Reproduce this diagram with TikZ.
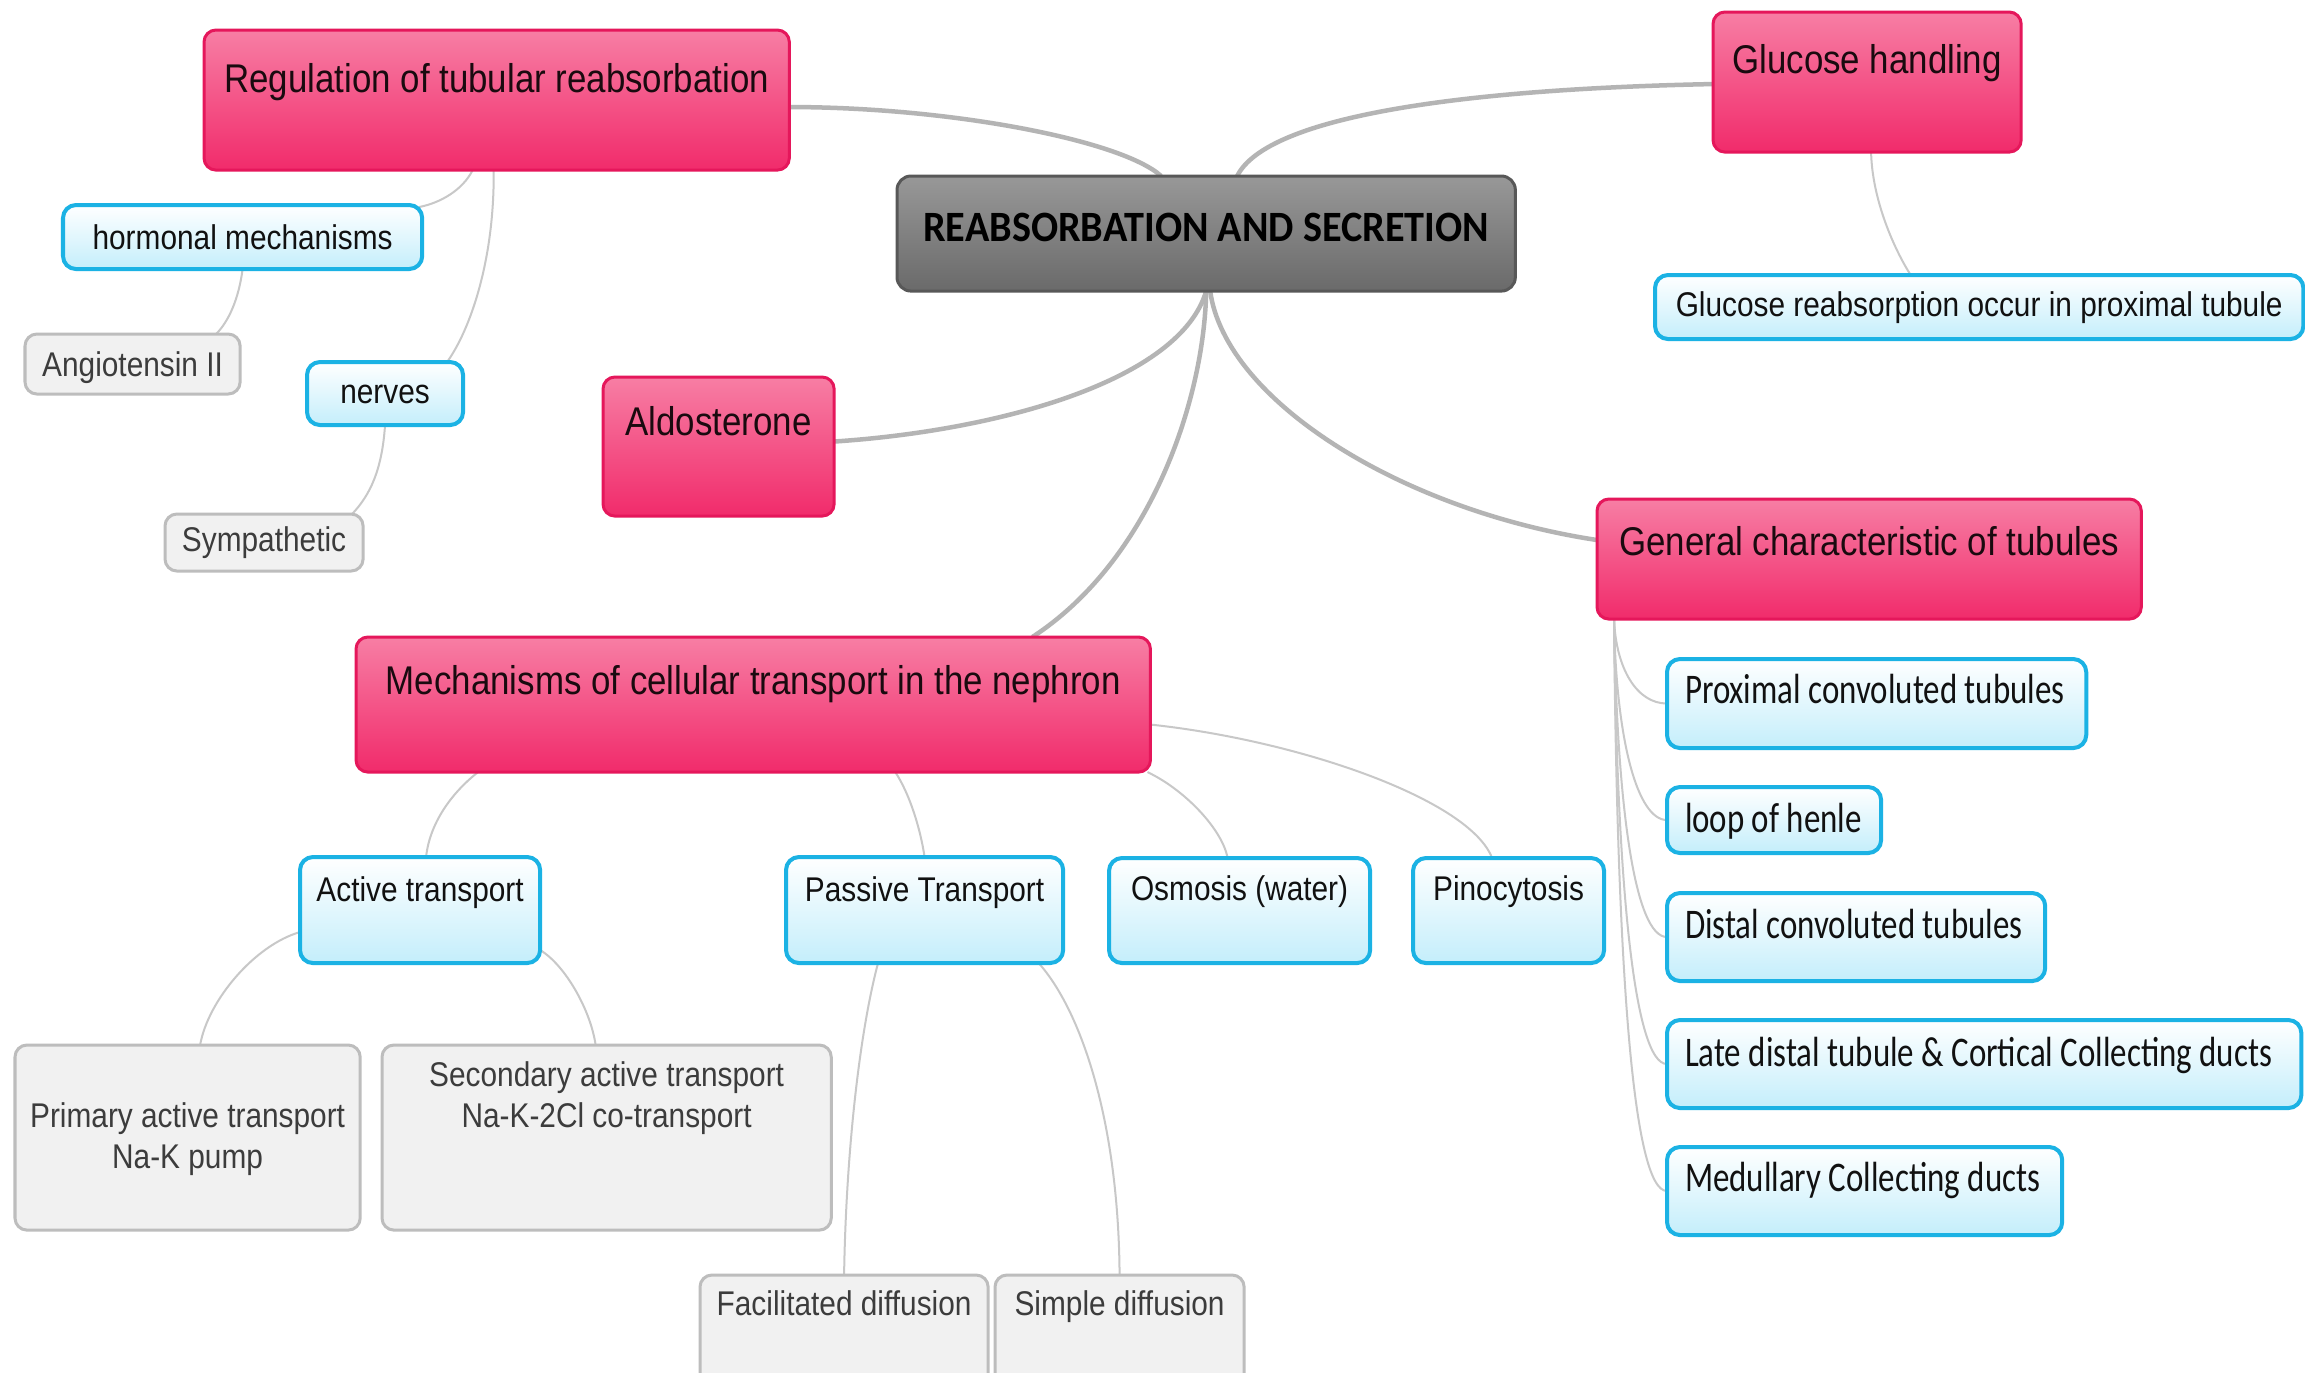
\documentclass[tikz,border=0pt]{standalone}
\usepackage{fontspec}
\newfontfamily\fA[FakeStretch=0.87]{Liberation Sans}
\newfontfamily\fC[FakeStretch=0.78]{Carlito}
\newfontfamily\fCB[FakeStretch=0.93]{Carlito}
\usetikzlibrary{shadings}
\pgfdeclarelayer{background}
\pgfsetlayers{background,main}
\definecolor{pinkT}{HTML}{F77EA4}
\definecolor{pinkB}{HTML}{F12B6B}
\definecolor{pinkD}{HTML}{E5175B}
\definecolor{blueD}{HTML}{1BB2E4}
\definecolor{blueB}{HTML}{C4EEFB}
\definecolor{grayF}{HTML}{F1F1F1}
\definecolor{grayD}{HTML}{BDBDBD}
\definecolor{cenT}{HTML}{989898}
\definecolor{cenB}{HTML}{6A6A6A}
\definecolor{cenD}{HTML}{585858}
\definecolor{lineM}{HTML}{B4B4B4}
\definecolor{lineS}{HTML}{C8C8C8}
\definecolor{txtP}{HTML}{1A0A0F}
\definecolor{txtB}{HTML}{111111}
\definecolor{txtG}{HTML}{3C3C3C}
\tikzset{
  box/.style={anchor=north west, inner xsep=0pt, inner ysep=0pt, outer sep=0pt},
  pinkbox/.style={box, rounded corners=0.12cm, draw=pinkD, line width=0.03cm,
    top color=pinkT, bottom color=pinkB, text=txtP,
    font={\fA\fontsize{11.4pt}{13.7pt}\selectfont}},
  bluebox/.style={box, rounded corners=0.13cm, draw=blueD, line width=0.04cm,
    top color=white, bottom color=blueB, text=txtB,
    font={\fA\fontsize{9.75pt}{11.7pt}\selectfont}},
  tubebox/.style={bluebox, inner xsep=0.18cm,
    font={\fC\fontsize{12pt}{14.4pt}\selectfont}},
  graybox/.style={box, rounded corners=0.12cm, draw=grayD, line width=0.03cm,
    fill=grayF, text=txtG,
    font={\fA\fontsize{9.75pt}{11.7pt}\selectfont}},
  cenbox/.style={box, rounded corners=0.14cm, draw=cenD, line width=0.03cm,
    top color=cenT, bottom color=cenB, text=black,
    font={\fCB\bfseries\fontsize{12.3pt}{14.8pt}\selectfont}},
  mainline/.style={draw=lineM, line width=0.045cm},
  subline/.style={draw=lineS, line width=0.02cm},
}
\begin{document}
\begin{tikzpicture}[x=0.01cm,y=-0.01cm]
\useasboundingbox (0,0) rectangle (2305,1372);
\clip (0,0) rectangle (2305,1372);

% main nodes
\node[cenbox, minimum width=6.18cm, text height=0.65cm, text depth=0.50cm] (cen) at (897,176) {REABSORBATION AND SECRETION};
\node[pinkbox, minimum width=5.85cm, text height=0.62cm, text depth=0.78cm] (reg) at (204,30) {Regulation of tubular reabsorbation};
\node[pinkbox, minimum width=3.08cm, text height=0.61cm, text depth=0.79cm] (glu) at (1713,12) {Glucose handling};
\node[pinkbox, minimum width=2.31cm, text height=0.58cm, text depth=0.81cm] (ald) at (603,377) {Aldosterone};
\node[pinkbox, minimum width=5.44cm, text height=0.56cm, text depth=0.64cm] (gen) at (1597,499) {General characteristic of tubules};
\node[pinkbox, minimum width=7.94cm, text height=0.57cm, text depth=0.78cm] (mech) at (356,637) {Mechanisms of cellular transport in the nephron};

% second level
\node[bluebox, minimum width=6.48cm, text height=0.41cm, text depth=0.23cm] (reabs) at (1655,275) {Glucose reabsorption occur in proximal tubule};
\node[bluebox, minimum width=3.59cm, text height=0.44cm, text depth=0.20cm] (horm) at (63,205) {hormonal mechanisms};
\node[bluebox, minimum width=1.56cm, text height=0.41cm, text depth=0.22cm] (nerves) at (307,362) {nerves};
\node[bluebox, minimum width=2.40cm, text height=0.44cm, text depth=0.62cm] (act) at (300,857) {Active transport};
\node[bluebox, minimum width=2.77cm, text height=0.44cm, text depth=0.62cm] (pas) at (786,857) {Passive Transport};
\node[bluebox, minimum width=2.61cm, text height=0.42cm, text depth=0.63cm] (osm) at (1109,858) {Osmosis (water)};
\node[bluebox, minimum width=1.91cm, text height=0.42cm, text depth=0.63cm] (pino) at (1413,858) {Pinocytosis};

\node[tubebox, text height=0.44cm, text depth=0.45cm] (prox) at (1667,659) {\makebox[3.83cm][l]{Proximal convoluted tubules}};
\node[tubebox, text height=0.45cm, text depth=0.21cm] (loop) at (1667,787) {\makebox[1.78cm][l]{loop of henle}};
\node[tubebox, text height=0.45cm, text depth=0.43cm] (dist) at (1667,893) {\makebox[3.42cm][l]{Distal convoluted tubules}};
\node[tubebox, text height=0.46cm, text depth=0.42cm] (late) at (1667,1020) {\makebox[5.98cm][l]{Late distal tubule \& Cortical Collecting ducts}};
\node[tubebox, text height=0.44cm, text depth=0.44cm] (med) at (1667,1147) {\makebox[3.59cm][l]{Medullary Collecting ducts}};

% leaves
\node[graybox, minimum width=2.15cm, text height=0.42cm, text depth=0.18cm] (ang) at (25,334) {Angiotensin II};
\node[graybox, minimum width=1.98cm, text height=0.37cm, text depth=0.20cm] (symp) at (165,514) {Sympathetic};
\node[graybox, minimum width=3.45cm, text height=0.82cm, text depth=1.03cm] (prim) at (15,1045) {\begin{tabular}[t]{@{}c@{}}Primary active transport\\Na-K pump\end{tabular}};
\node[graybox, minimum width=4.49cm, text height=0.41cm, text depth=1.44cm] (sec) at (382,1045) {\begin{tabular}[t]{@{}c@{}}Secondary active transport\\Na-K-2Cl co-transport\end{tabular}};
\node[graybox, minimum width=2.88cm, text height=0.40cm, text depth=0.85cm] (fac) at (700,1275) {Facilitated diffusion};
\node[graybox, minimum width=2.49cm, text height=0.40cm, text depth=0.85cm] (simp) at (995,1275) {Simple diffusion};

\begin{pgfonlayer}{background}
\fill[white] (0,0) rectangle (2305,1372);
% from the central node
\draw[mainline] ([yshift=-0.07cm]reg.east) .. controls +(160,0) and +(-40,-36) .. ([xshift=-0.45cm]cen.north);
\draw[mainline] ([xshift=0.31cm]cen.north) .. controls +(30,-60) and +(-250,5) .. ([yshift=-0.02cm]glu.west);
\draw[mainline] (cen.south) .. controls +(-26,89) and +(166,-11) .. ([yshift=0.05cm]ald.east);
\draw[mainline] (cen.south) .. controls +(-2,109) and +(118,-77) .. ([xshift=2.79cm]mech.north);
\draw[mainline] ([xshift=0.04cm]cen.south) .. controls +(15,109) and +(-197,-30) .. ([yshift=0.19cm]gen.west);
% regulation
\draw[subline] ([xshift=-0.24cm]reg.south) .. controls +(-10,20) and +(21,-4) .. ([xshift=-0.03cm,yshift=-0.02cm]horm.north east);
\draw[subline] ([xshift=-0.03cm]reg.south) .. controls +(1,90) and +(23,-32) .. ([xshift=-0.16cm]nerves.north east);
\draw[subline] (horm.south) .. controls +(-4,31) and +(12,-12) .. ([xshift=0.835cm]ang.north);
\draw[subline] (nerves.south) .. controls +(-3,45) and +(18,-19) .. ([xshift=0.88cm]symp.north);
% glucose
\draw[subline] ([xshift=0.04cm]glu.south) .. controls +(1,48) and +(-16,-25) .. ([xshift=-0.685cm]reabs.north);
% general characteristic
\draw[subline] ([xshift=0.17cm]gen.south west) .. controls +(2,50) and +(-30,0) .. (prox.west);
\draw[subline] ([xshift=0.17cm]gen.south west) .. controls +(2,120) and +(-30,0) .. (loop.west);
\draw[subline] ([xshift=0.17cm]gen.south west) .. controls +(3,190) and +(-32,0) .. (dist.west);
\draw[subline] ([xshift=0.17cm]gen.south west) .. controls +(3,265) and +(-33,0) .. (late.west);
\draw[subline] ([xshift=0.17cm]gen.south west) .. controls +(3,340) and +(-35,0) .. (med.west);
% mechanisms
\draw[subline] ([xshift=1.22cm]mech.south west) .. controls +(-23,18) and +(4,-37) .. ([xshift=0.06cm]act.north);
\draw[subline] ([xshift=1.42cm]mech.south) .. controls +(15,23) and +(-4,-27) .. (pas.north);
\draw[subline] ([xshift=-0.03cm]mech.south east) .. controls +(38,18) and +(-5,-28) .. ([xshift=-0.12cm]osm.north);
\draw[subline] ([yshift=-0.2cm]mech.east) .. controls +(150,16) and +(-22,-58) .. ([xshift=-0.165cm]pino.north);
% transport leaves
\draw[subline] ([yshift=-0.22cm]act.west) .. controls +(-45,13) and +(8,-45) .. ([xshift=0.125cm]prim.north);
\draw[subline] ([yshift=-0.4cm]act.east) .. controls +(25,15) and +(-5,-35) .. ([xshift=-0.11cm]sec.north);
\draw[subline] ([xshift=-0.465cm]pas.south) .. controls +(-18,67) and +(2,-125) .. (fac.north);
\draw[subline] ([xshift=1.14cm]pas.south) .. controls +(42,47) and +(-1,-155) .. (simp.north);
\end{pgfonlayer}
\end{tikzpicture}
\end{document}
